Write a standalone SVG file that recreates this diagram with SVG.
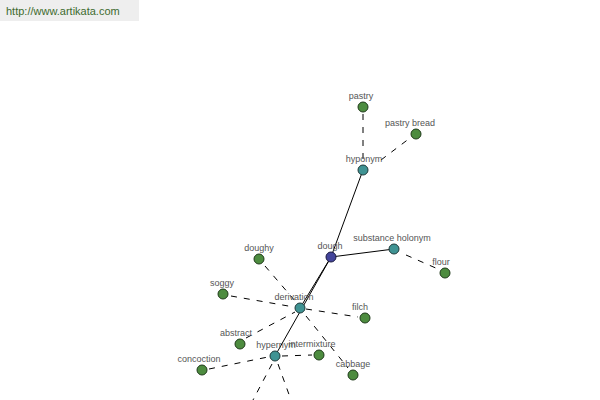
<svg xmlns="http://www.w3.org/2000/svg" width="600" height="400" viewBox="0 0 600 400">
<style>
.lbl{font-family:"Liberation Sans",Arial,sans-serif;font-size:9px;fill:#555;text-anchor:middle}
.s{stroke:#000;stroke-width:1;fill:none}
.d{stroke:#000;stroke-width:1;fill:none;stroke-dasharray:6,7}
.g{fill:#4d8c3f;stroke:#1f3a1a;stroke-width:1}
.t{fill:#3f9393;stroke:#1f3a3a;stroke-width:1}
.b{fill:#43449a;stroke:#1a1a40;stroke-width:1}
</style>
<rect width="600" height="400" fill="#fff"/>
<rect x="0" y="0" width="139" height="21" fill="#eeeeee"/>
<text x="6" y="15" font-family="Liberation Sans,Arial,sans-serif" font-size="11" fill="#3d6b2e">http://www.artikata.com</text>
<g id="connectors">
<line class="s" x1="331" y1="257" x2="363" y2="170"/>
<line class="s" x1="331" y1="257" x2="394" y2="249"/>
<line class="s" x1="331" y1="257" x2="300" y2="308"/>
<line class="s" x1="331" y1="257" x2="275" y2="356"/>
<line class="d" x1="363" y1="114" x2="363" y2="163"/>
<line class="d" x1="381" y1="160" x2="410" y2="138"/>
<line class="d" x1="406" y1="255" x2="438" y2="269"/>
<line class="d" x1="265" y1="266" x2="296" y2="302"/>
<line class="d" x1="231" y1="296" x2="294" y2="307"/>
<line class="d" x1="306" y1="309" x2="358" y2="317"/>
<line class="d" x1="246" y1="338" x2="295" y2="312"/>
<line class="d" x1="306" y1="316" x2="348" y2="368"/>
<line class="d" x1="209" y1="369" x2="268" y2="357"/>
<line class="d" x1="282" y1="356" x2="312" y2="355"/>
<line class="d" x1="272" y1="364" x2="253" y2="400"/>
<line class="d" x1="278" y1="364" x2="291" y2="400"/>
</g>
<g id="pastry"><circle class="g" cx="363" cy="107" r="5"/><text class="lbl" x="361" y="99">pastry</text></g>
<g id="pastry-bread"><circle class="g" cx="416" cy="134" r="5"/><text class="lbl" x="410" y="126">pastry  bread</text></g>
<g id="hyponym"><circle class="t" cx="363" cy="170" r="5"/><text class="lbl" x="364" y="162">hyponym</text></g>
<g id="dough"><circle class="b" cx="331" cy="257" r="5"/><text class="lbl" x="330" y="249">dough</text></g>
<g id="substance-holonym"><circle class="t" cx="394" cy="249" r="5"/><text class="lbl" x="392" y="241">substance holonym</text></g>
<g id="flour"><circle class="g" cx="445" cy="273" r="5"/><text class="lbl" x="441" y="265">flour</text></g>
<g id="doughy"><circle class="g" cx="259" cy="259" r="5"/><text class="lbl" x="259" y="251">doughy</text></g>
<g id="soggy"><circle class="g" cx="223" cy="294" r="5"/><text class="lbl" x="222" y="286">soggy</text></g>
<g id="derivation"><circle class="t" cx="300" cy="308" r="5"/><text class="lbl" x="294" y="300">derivation</text></g>
<g id="filch"><circle class="g" cx="365" cy="318" r="5"/><text class="lbl" x="360" y="310">filch</text></g>
<g id="abstract"><circle class="g" cx="240" cy="344" r="5"/><text class="lbl" x="236" y="336">abstract</text></g>
<g id="hypernym"><circle class="t" cx="275" cy="356" r="5"/><text class="lbl" x="276" y="348">hypernym</text></g>
<g id="intermixture"><circle class="g" cx="319" cy="355" r="5"/><text class="lbl" x="312" y="347">intermixture</text></g>
<g id="concoction"><circle class="g" cx="202" cy="370" r="5"/><text class="lbl" x="199" y="362">concoction</text></g>
<g id="cabbage"><circle class="g" cx="353" cy="375" r="5"/><text class="lbl" x="353" y="367">cabbage</text></g>
</svg>
